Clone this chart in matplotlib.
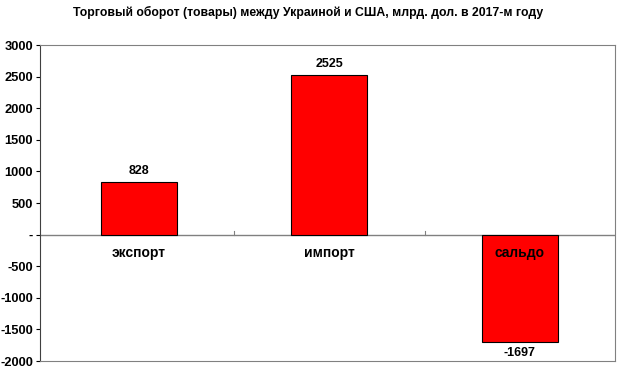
import matplotlib.pyplot as plt
from matplotlib.ticker import FuncFormatter

categories = ["экспорт", "импорт", "сальдо"]
values = [828, 2525, -1697]
title = "Торговый оборот (товары) между Украиной и США, млрд. дол. в 2017-м году"

plt.rcParams['font.family'] = ['Liberation Sans', 'DejaVu Sans']
plt.rcParams['font.weight'] = 'bold'

fig = plt.figure(figsize=(6.2, 3.75), dpi=100)
ax = fig.add_axes([40 / 620, 14 / 375, 575 / 620, 316 / 375])

x = list(range(len(categories)))
ax.bar(x, values, width=0.4, color='#ff0000', edgecolor='black', linewidth=0.8, zorder=2)

ax.set_xlim(-0.52, 2.5)
ax.set_ylim(-2000, 3000)
ax.set_yticks(range(-2000, 3001, 500))
ax.yaxis.set_major_formatter(FuncFormatter(lambda v, p: "-" if v == 0 else f"{int(v)}"))
ax.tick_params(axis='y', labelsize=9.3, length=3, width=0.8, pad=2, colors='black')

ax.set_xticks([])
ax.axhline(0, color='#808080', linewidth=1, zorder=1)
for b in [0.5, 1.5]:
    ax.plot([b, b], [0, 60], color='#808080', linewidth=0.8, zorder=1)

for s in ['top', 'right', 'bottom']:
    ax.spines[s].set_color('#808080')
ax.spines['left'].set_color('#404040')

for xi, v, c in zip(x, values, categories):
    if v >= 0:
        ax.text(xi, v + 80, str(v), ha='center', va='bottom', fontsize=9, fontweight='bold')
    else:
        ax.text(xi, v - 80, str(v), ha='center', va='top', fontsize=9, fontweight='bold')
    ax.text(xi, -285, c, ha='center', va='center', fontsize=10, fontweight='bold')

fig.text(308 / 620, 1 - 12 / 375, title, ha='center', va='center', fontsize=8.8, fontweight='bold')

fig.savefig('out.png', dpi=100)
